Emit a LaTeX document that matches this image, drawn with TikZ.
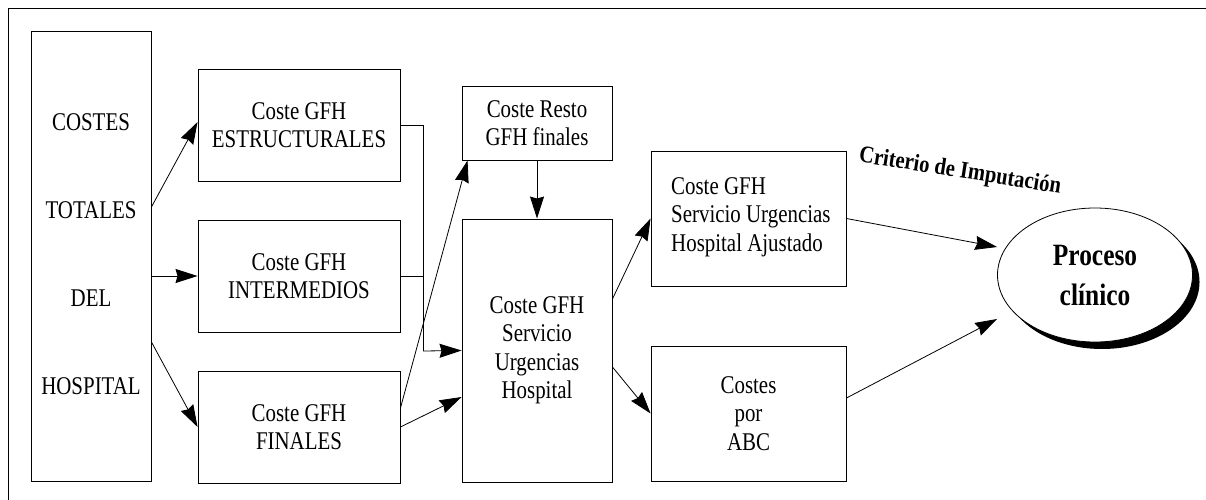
\documentclass[tikz,border=0pt]{standalone}
\usepackage{fontspec}
\setmainfont{Liberation Serif}[FakeStretch=0.82]
\newfontfamily\critfont{Liberation Serif}[FakeStretch=0.86]
\usetikzlibrary{arrows.meta,shapes.geometric}
\begin{document}
\begin{tikzpicture}[x=1pt,y=-1pt,
  box/.style={draw,line width=0.9pt,rectangle,inner sep=0pt,align=center},
  txt/.style={font=\fontsize{25.5}{28.5}\selectfont},
  conn/.style={line width=0.8pt},
  arr/.style={line width=0.8pt,-{Stealth[inset=2pt,length=22pt,width=14pt]}}]
\useasboundingbox (0,0) rectangle (1206,500);
\draw[line width=0.9pt] (8,500) -- (8,8) -- (1206,8);
% left column
\node[box,minimum width=120pt,minimum height=450pt] (tot) at (91,256) {};
\node[txt] (t1) at (91,122) {COSTES};
\node[txt] (t2) at (91,210) {TOTALES};
\node[txt] (t3) at (91,298) {DEL};
\node[txt] (t4) at (91,386) {HOSPITAL};
% second column
\node[box,txt,minimum width=202pt,minimum height=112pt] (est) at (299,125) {Coste GFH\\ESTRUCTURALES};
\node[box,txt,minimum width=202pt,minimum height=112pt] (int) at (299,276) {Coste GFH\\INTERMEDIOS};
\node[box,txt,minimum width=202pt,minimum height=112pt] (fin) at (299,427) {Coste GFH\\FINALES};
% third column
\node[box,txt,minimum width=150pt,minimum height=74pt] (resto) at (537,123) {Coste Resto\\GFH finales};
\node[box,txt,minimum width=150pt,minimum height=263pt] (urg) at (537,350.5) {Coste GFH\\Servicio\\Urgencias\\Hospital};
% fourth column
\node[box,minimum width=195pt,minimum height=135pt] (ajus) at (748.5,218.5) {};
\node[txt,align=left,anchor=west,inner sep=0pt] (ajust) at (671,217) {Coste GFH\\Servicio Urgencias\\Hospital Ajustado};
\node[box,txt,minimum width=195pt,minimum height=135pt] (abc) at (748.5,413.5) {Costes\\por\\ABC};
% ellipse
\node[ellipse,fill=black,minimum width=195pt,minimum height=134pt,inner sep=0pt] (shadow) at (1102,282) {};
\node[ellipse,draw,line width=0.8pt,fill=white,minimum width=195pt,minimum height=134pt,inner sep=0pt,align=center,
  font=\fontsize{31}{40}\selectfont\bfseries] (proc) at (1095,275) {Proceso\\clínico};
\node[font=\critfont\fontsize{24}{26}\selectfont\bfseries,rotate=-9,inner sep=0pt] (crit) at (960,172) {Criterio de Imputación};
% connectors
\draw[arr] ([yshift=49pt]tot.east) -- ([yshift=3pt]est.west);
\draw[arr] (tot.east |- int.west) -- (int.west);
\draw[arr] ([yshift=-86pt]tot.east) -- (fin.west);
\coordinate (j) at (423,351);
\draw[conn] (est.east) -| (j);
\draw[conn] (int.east) -| (j);
\draw[arr] (j) -- (urg.west);
\draw[arr] ([yshift=19pt]fin.east) -- ([xshift=6pt]resto.south west);
\draw[arr] (fin.east) -- ([yshift=-46.5pt]urg.west);
\draw[arr] (resto.south) -- (urg.north);
\draw[arr] ([yshift=51.5pt]urg.east) -- (ajus.west);
\draw[arr] ([yshift=-16.5pt]urg.east) -- (abc.west);
\draw[arr] (ajus.east) -- ([yshift=28pt]proc.west);
\draw[arr] ([yshift=15.5pt]abc.east) -- ([yshift=-44pt]proc.west);
\end{tikzpicture}
\end{document}
